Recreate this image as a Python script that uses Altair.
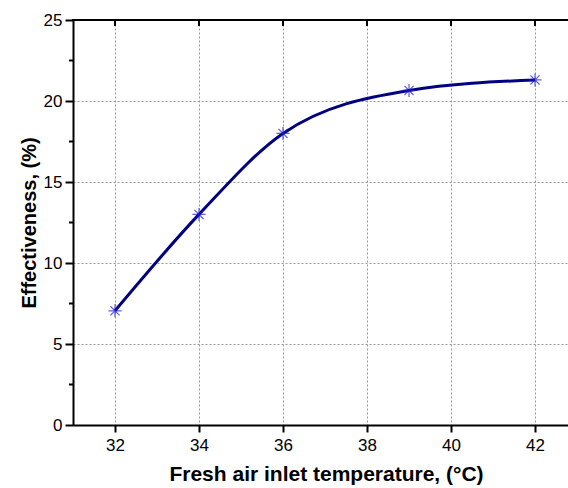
import altair as alt
import pandas as pd

temps = [32, 34, 36, 39, 42]
effectiveness = [7.05, 13.0, 18.0, 20.65, 21.3]
x_ticks = [32, 34, 36, 38, 40, 42]
y_ticks = [0, 5, 10, 15, 20, 25]
y_minor = [2.5, 7.5, 12.5, 17.5, 22.5]

df = pd.DataFrame({"t": temps, "e": effectiveness})
xt = pd.DataFrame({"t": x_ticks})
ym = pd.DataFrame({"e": y_minor})

W, H = 495, 405
font = "Liberation Sans"
xscale = alt.Scale(domain=[31, 31 + W / 42], nice=False, zero=False)
yscale = alt.Scale(domain=[0, 25], nice=False)

xaxis = alt.Axis(values=x_ticks, title="Fresh air inlet temperature, (°C)", grid=True,
                 gridColor="#999999", gridDash=[2, 2], gridWidth=1,
                 domainColor="black", domainWidth=2, tickColor="black", tickWidth=2, tickSize=7,
                 labelFont=font, labelFontSize=17, labelColor="black", labelPadding=5,
                 titleFont=font, titleFontSize=21, titleFontWeight="bold", titleColor="black",
                 titlePadding=10, titleX=253)
yaxis = alt.Axis(values=y_ticks, title="Effectiveness, (%)", grid=True,
                 gridColor="#999999", gridDash=[2, 2], gridWidth=1,
                 domainColor="black", domainWidth=2, tickColor="black", tickWidth=2, tickSize=8,
                 labelFont=font, labelFontSize=17, labelColor="black", labelPadding=3,
                 titleFont=font, titleFontSize=20, titleFontWeight="bold", titleColor="black",
                 titlePadding=4)

line = alt.Chart(df).mark_line(interpolate="monotone", color="#000080", strokeWidth=3).encode(
    x=alt.X("t:Q", scale=xscale, axis=xaxis),
    y=alt.Y("e:Q", scale=yscale, axis=yaxis),
)

star = "M-1,0L1,0M0,-1L0,1M-0.7,-0.7L0.7,0.7M-0.7,0.7L0.7,-0.7"
points = alt.Chart(df).mark_point(shape=star, size=170, stroke="#1a1acc", strokeWidth=1.2, filled=False).encode(
    x=alt.X("t:Q", scale=xscale),
    y=alt.Y("e:Q", scale=yscale),
)

top_border = alt.Chart(xt).mark_rule(color="black", strokeWidth=2).encode(
    x=alt.value(-1), x2=alt.value(W + 2), y=alt.value(0),
)

top_ticks = alt.Chart(xt).mark_rule(color="black", strokeWidth=2).encode(
    x=alt.X("t:Q", scale=xscale),
    y=alt.value(0),
    y2=alt.value(6),
)

minor = alt.Chart(ym).mark_rule(color="black", strokeWidth=2).encode(
    y=alt.Y("e:Q", scale=yscale),
    x=alt.value(-4),
    x2=alt.value(0),
)

chart = alt.layer(line, points, top_border, top_ticks, minor).properties(
    width=W, height=H,
    autosize=alt.AutoSizeParams(type="none"),
    padding={"left": 73, "top": 20, "right": 0, "bottom": 63},
).configure_view(stroke=None).configure(background="white")

chart.save("out.html", embed_options={"renderer": "svg", "actions": False})
